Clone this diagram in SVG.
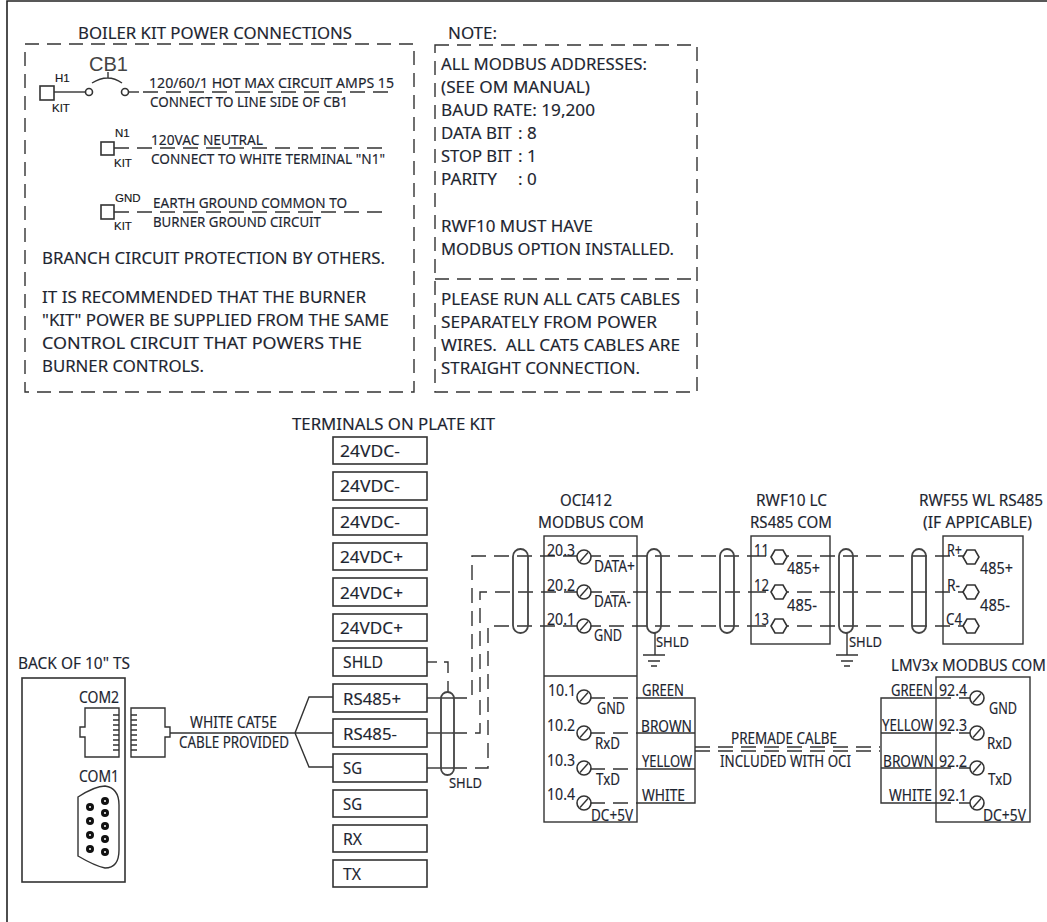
<svg xmlns="http://www.w3.org/2000/svg" xmlns:xlink="http://www.w3.org/1999/xlink" width="1047" height="922" viewBox="0 0 1047 922">
<style>
text{font-family:"Noto Sans","Open Sans","DejaVu Sans",sans-serif;fill:#1d2530;font-size:17px;stroke:#1d2530;stroke-width:.15;transform:translateY(1px)}
.t{font-size:15.5px}.s{font-size:13.5px}.p{font-size:13.8px}
.a{font-family:"Liberation Sans",Arial,sans-serif;font-size:11.5px;fill:#111}
.l{fill:none;stroke:#333;stroke-width:1.4}
.b{fill:#fff;stroke:#333;stroke-width:1.6}
.d{fill:none;stroke:#333;stroke-width:1.4;stroke-dasharray:15 8}
.box{fill:none;stroke:#333;stroke-width:1.4;stroke-dasharray:14 8}
.cap{fill:none;stroke:#444;stroke-width:1.8}
.pin{fill:#111;stroke:none}
</style>
<defs>
<g id="screw"><circle r="7" fill="#fff" stroke="#333" stroke-width="1.6"/><line x1="-4" y1="4.5" x2="4" y2="-4.5" stroke="#333" stroke-width="1.4"/></g>
<polygon id="hex" points="-8,0 -4,-7 4,-7 8,0 4,7 -4,7" fill="#fff" stroke="#333" stroke-width="1.6"/>
<g id="gnd"><path class="l" d="M-11,0H11M-6,6H6M-3,11H3"/></g>
<g id="dpin"><circle r="4" class="pin"/><circle r="1" fill="#fff"/></g>
</defs>
<rect width="1047" height="922" fill="#fff"/>
<path d="M7,922V1H1047" fill="none" stroke="#222" stroke-width="1.6"/>

<g id="connectors">
<path class="l" d="M54,92H85"/>
<path class="l" d="M129,92H139"/>
<path class="d" d="M143,92H391"/>
<path class="d" d="M114,148H390"/>
<path class="d" d="M114,212H390"/>
<path class="d" d="M695,747H880"/>
<path class="d" d="M695,751H880"/>
<path class="l" d="M170,733H333M295,733L309,697H333M295,733L309,767H333"/>
<path class="l" d="M427,662H437"/>
<path class="d" d="M444,662H448V692" stroke-dasharray="8 6"/>
<path class="l" d="M427,698H452"/>
<path class="d" d="M452,698H472V556H751"/>
<path class="l" d="M427,733H452"/>
<path class="d" d="M452,733H480V592H751"/>
<path class="l" d="M427,768H452"/>
<path class="d" d="M452,768H488V626H751"/>
<path class="d" d="M751,556H971M751,592H971M751,626H971"/>
<path class="d" d="M590,698H637M590,733H637M590,769H637M590,803H637"/>
<path class="l" d="M637,698H695V803H637M637,733H695M637,769H695"/>
<path class="l" d="M936,698H881V803H936M936,733H881M936,768H881"/>
<path class="d" d="M936,698H970M936,733H970M936,768H970M936,803H970"/>
<rect class="cap" x="513" y="549" width="15" height="84" rx="7.5"/>
<rect class="cap" x="647" y="549" width="14" height="84" rx="7"/>
<rect class="cap" x="720" y="549" width="14" height="84" rx="7"/>
<rect class="cap" x="839" y="549" width="14" height="84" rx="7"/>
<rect class="cap" x="912" y="549" width="14" height="84" rx="7"/>
<rect class="cap" x="441" y="692" width="13" height="83" rx="6.5"/>
<path class="l" d="M655,633V655"/><use xlink:href="#gnd" href="#gnd" x="654" y="655"/>
<path class="l" d="M847,633V655"/><use xlink:href="#gnd" href="#gnd" x="847" y="655"/>
</g>

<g id="power-box">
<rect class="box" x="25" y="44" width="389" height="348"/>
<text x="78" y="38" textLength="274" lengthAdjust="spacingAndGlyphs">BOILER KIT POWER CONNECTIONS</text>
<rect class="b" x="40" y="86" width="14" height="14"/>
<circle class="b" cx="89" cy="92" r="3.5"/><circle class="b" cx="125" cy="92" r="3.5"/>
<path class="l" d="M92,83Q108,73 122,83M108,78V72"/>
<text class="a" x="89" y="70" style="font-size:21px;stroke:none;fill:#444" textLength="39" lengthAdjust="spacingAndGlyphs">CB1</text>
<text class="a" x="55" y="81">H1</text><text class="a" x="52" y="111">KIT</text>
<text class="p" x="149" y="87" textLength="245" lengthAdjust="spacingAndGlyphs">120/60/1 HOT MAX CIRCUIT AMPS 15</text>
<text class="p" x="150" y="106" textLength="198" lengthAdjust="spacingAndGlyphs">CONNECT TO LINE SIDE OF CB1</text>
<rect class="b" x="101" y="142" width="13" height="13"/>
<text class="a" x="115" y="136">N1</text><text class="a" x="114" y="166">KIT</text>
<text class="p" x="151" y="144" textLength="112" lengthAdjust="spacingAndGlyphs">120VAC NEUTRAL</text>
<text class="p" x="151" y="163" textLength="234" lengthAdjust="spacingAndGlyphs">CONNECT TO WHITE TERMINAL "N1"</text>
<rect class="b" x="101" y="205" width="13" height="14"/>
<text class="a" x="115" y="201">GND</text><text class="a" x="114" y="229">KIT</text>
<text class="p" x="153" y="207" textLength="194" lengthAdjust="spacingAndGlyphs">EARTH GROUND COMMON TO</text>
<text class="p" x="153" y="226" textLength="168" lengthAdjust="spacingAndGlyphs">BURNER GROUND CIRCUIT</text>
<text x="42" y="263" textLength="343" lengthAdjust="spacingAndGlyphs">BRANCH CIRCUIT PROTECTION BY OTHERS.</text>
<text x="42" y="302" textLength="324" lengthAdjust="spacingAndGlyphs">IT IS RECOMMENDED THAT THE BURNER</text>
<text x="42" y="325" textLength="347" lengthAdjust="spacingAndGlyphs">"KIT" POWER BE SUPPLIED FROM THE SAME</text>
<text x="42" y="348" textLength="320" lengthAdjust="spacingAndGlyphs">CONTROL CIRCUIT THAT POWERS THE</text>
<text x="42" y="371" textLength="162" lengthAdjust="spacingAndGlyphs">BURNER CONTROLS.</text>
</g>

<g id="note-box">
<rect class="box" x="435" y="45" width="262" height="347"/>
<path class="box" d="M435,279H697"/>
<text x="448" y="38" textLength="49" lengthAdjust="spacingAndGlyphs">NOTE:</text>
<text x="441" y="69" textLength="206" lengthAdjust="spacingAndGlyphs">ALL MODBUS ADDRESSES:</text>
<text x="441" y="92" textLength="149" lengthAdjust="spacingAndGlyphs">(SEE OM MANUAL)</text>
<text x="441" y="115" textLength="154" lengthAdjust="spacingAndGlyphs">BAUD RATE: 19,200</text>
<text x="441" y="138" textLength="71" lengthAdjust="spacingAndGlyphs">DATA BIT</text><text x="518" y="138">: 8</text>
<text x="441" y="161" textLength="71" lengthAdjust="spacingAndGlyphs">STOP BIT</text><text x="518" y="161">: 1</text>
<text x="441" y="184" textLength="56" lengthAdjust="spacingAndGlyphs">PARITY</text><text x="518" y="184">: 0</text>
<text x="441" y="231" textLength="152" lengthAdjust="spacingAndGlyphs">RWF10 MUST HAVE</text>
<text x="441" y="254" textLength="233" lengthAdjust="spacingAndGlyphs">MODBUS OPTION INSTALLED.</text>
<text x="441" y="304" textLength="239" lengthAdjust="spacingAndGlyphs">PLEASE RUN ALL CAT5 CABLES</text>
<text x="441" y="327" textLength="216" lengthAdjust="spacingAndGlyphs">SEPARATELY FROM POWER</text>
<text x="441" y="350" textLength="239" lengthAdjust="spacingAndGlyphs" xml:space="preserve">WIRES.  ALL CAT5 CABLES ARE</text>
<text x="441" y="373" textLength="199" lengthAdjust="spacingAndGlyphs">STRAIGHT CONNECTION.</text>
</g>

<g id="terminals">
<text x="292" y="429" textLength="203" lengthAdjust="spacingAndGlyphs">TERMINALS ON PLATE KIT</text>
<rect class="b" x="333" y="437" width="94" height="27"/><text x="340" y="456" textLength="60" lengthAdjust="spacingAndGlyphs">24VDC-</text>
<rect class="b" x="333" y="472" width="94" height="28"/><text x="340" y="491" textLength="60" lengthAdjust="spacingAndGlyphs">24VDC-</text>
<rect class="b" x="333" y="508" width="94" height="27"/><text x="340" y="527" textLength="60" lengthAdjust="spacingAndGlyphs">24VDC-</text>
<rect class="b" x="333" y="543" width="94" height="27"/><text x="340" y="562" textLength="63" lengthAdjust="spacingAndGlyphs">24VDC+</text>
<rect class="b" x="333" y="578" width="94" height="28"/><text x="340" y="598" textLength="63" lengthAdjust="spacingAndGlyphs">24VDC+</text>
<rect class="b" x="333" y="614" width="94" height="27"/><text x="340" y="633" textLength="63" lengthAdjust="spacingAndGlyphs">24VDC+</text>
<rect class="b" x="333" y="648" width="94" height="28"/><text x="343" y="667" textLength="40" lengthAdjust="spacingAndGlyphs">SHLD</text>
<rect class="b" x="333" y="684" width="94" height="28"/><text x="343" y="704" textLength="58" lengthAdjust="spacingAndGlyphs">RS485+</text>
<rect class="b" x="333" y="719" width="94" height="28"/><text x="343" y="739" textLength="54" lengthAdjust="spacingAndGlyphs">RS485-</text>
<rect class="b" x="333" y="754" width="94" height="28"/><text x="343" y="773" textLength="19" lengthAdjust="spacingAndGlyphs">SG</text>
<rect class="b" x="333" y="790" width="94" height="27"/><text x="343" y="809" textLength="19" lengthAdjust="spacingAndGlyphs">SG</text>
<rect class="b" x="333" y="825" width="94" height="27"/><text x="343" y="844" textLength="19" lengthAdjust="spacingAndGlyphs">RX</text>
<rect class="b" x="333" y="860" width="94" height="27"/><text x="343" y="879" textLength="18" lengthAdjust="spacingAndGlyphs">TX</text>
<text class="s" x="449" y="787" textLength="33" lengthAdjust="spacingAndGlyphs">SHLD</text>
</g>

<g id="touchscreen">
<text x="18" y="668" textLength="112" lengthAdjust="spacingAndGlyphs">BACK OF 10" TS</text>
<rect class="b" x="22" y="678" width="103" height="204"/>
<text class="t" x="79" y="702" textLength="40" lengthAdjust="spacingAndGlyphs">COM2</text>
<path class="l" d="M85,708H119V757H85V737H80V727H85Z"/>
<path class="l" d="M113,715H119M113,720H119M113,725H119M113,730H119M113,735H119M113,740H119M113,745H119M113,750H119"/>
<text class="t" x="79" y="781" textLength="40" lengthAdjust="spacingAndGlyphs">COM1</text>
<path class="l" d="M78,797Q95,786 105,786Q119,788 119,805V850Q119,868 105,868Q95,866 78,856Z"/>
<use xlink:href="#dpin" href="#dpin" x="90" y="807"/><use xlink:href="#dpin" href="#dpin" x="90" y="821"/><use xlink:href="#dpin" href="#dpin" x="90" y="835"/><use xlink:href="#dpin" href="#dpin" x="90" y="849"/>
<use xlink:href="#dpin" href="#dpin" x="105" y="801"/><use xlink:href="#dpin" href="#dpin" x="105" y="813"/><use xlink:href="#dpin" href="#dpin" x="105" y="826"/><use xlink:href="#dpin" href="#dpin" x="105" y="839"/><use xlink:href="#dpin" href="#dpin" x="105" y="852"/>
</g>

<g id="cat5-plug">
<path class="l" d="M131,708H165V727H170V737H165V757H131Z"/>
<path class="l" d="M131,715H137M131,720H137M131,725H137M131,730H137M131,735H137M131,740H137M131,745H137M131,750H137"/>
<text class="t" x="190" y="727" textLength="87" lengthAdjust="spacingAndGlyphs">WHITE CAT5E</text>
<text class="t" x="179" y="747" textLength="110" lengthAdjust="spacingAndGlyphs">CABLE PROVIDED</text>
</g>

<g id="oci412">
<rect class="l" x="544" y="536" width="93" height="286" stroke-width="1.6"/>
<path class="l" d="M544,676H637"/>
<text class="t" x="560" y="505" textLength="52" lengthAdjust="spacingAndGlyphs">OCI412</text>
<text class="t" x="538" y="527" textLength="106" lengthAdjust="spacingAndGlyphs">MODBUS COM</text>
<use xlink:href="#screw" href="#screw" x="584" y="557"/><use xlink:href="#screw" href="#screw" x="584" y="592"/><use xlink:href="#screw" href="#screw" x="584" y="626"/>
<text class="t" x="547" y="555" textLength="28" lengthAdjust="spacingAndGlyphs">20.3</text><text class="t" x="594" y="571" textLength="41" lengthAdjust="spacingAndGlyphs">DATA+</text>
<text class="t" x="547" y="590" textLength="28" lengthAdjust="spacingAndGlyphs">20.2</text><text class="t" x="594" y="606" textLength="37" lengthAdjust="spacingAndGlyphs">DATA-</text>
<text class="t" x="547" y="624" textLength="28" lengthAdjust="spacingAndGlyphs">20.1</text><text class="t" x="594" y="640" textLength="28" lengthAdjust="spacingAndGlyphs">GND</text>
<text class="s" x="656" y="646" textLength="33" lengthAdjust="spacingAndGlyphs">SHLD</text>
<use xlink:href="#screw" href="#screw" x="584" y="697"/><use xlink:href="#screw" href="#screw" x="584" y="733"/><use xlink:href="#screw" href="#screw" x="584" y="768"/><use xlink:href="#screw" href="#screw" x="584" y="803"/>
<text class="t" x="548" y="695" textLength="28" lengthAdjust="spacingAndGlyphs">10.1</text><text class="t" x="597" y="713" textLength="28" lengthAdjust="spacingAndGlyphs">GND</text>
<text class="t" x="547" y="730" textLength="28" lengthAdjust="spacingAndGlyphs">10.2</text><text class="t" x="595" y="748" textLength="25" lengthAdjust="spacingAndGlyphs">RxD</text>
<text class="t" x="547" y="765" textLength="28" lengthAdjust="spacingAndGlyphs">10.3</text><text class="t" x="596" y="784" textLength="24" lengthAdjust="spacingAndGlyphs">TxD</text>
<text class="t" x="547" y="799" textLength="28" lengthAdjust="spacingAndGlyphs">10.4</text><text class="t" x="591" y="820" textLength="42" lengthAdjust="spacingAndGlyphs">DC+5V</text>
<text class="t" x="642" y="695" textLength="42" lengthAdjust="spacingAndGlyphs">GREEN</text>
<text class="t" x="641" y="731" textLength="51" lengthAdjust="spacingAndGlyphs">BROWN</text>
<text class="t" x="642" y="766" textLength="50" lengthAdjust="spacingAndGlyphs">YELLOW</text>
<text class="t" x="642" y="800" textLength="43" lengthAdjust="spacingAndGlyphs">WHITE</text>
</g>

<g id="premade-cable">
<text class="t" x="731" y="743" textLength="106" lengthAdjust="spacingAndGlyphs">PREMADE CALBE</text>
<text class="t" x="720" y="766" textLength="131" lengthAdjust="spacingAndGlyphs">INCLUDED WITH OCI</text>
</g>

<g id="rwf10">
<rect class="l" x="751" y="536" width="79" height="108"/>
<text class="t" x="756" y="505" textLength="71" lengthAdjust="spacingAndGlyphs">RWF10 LC</text>
<text class="t" x="750" y="527" textLength="82" lengthAdjust="spacingAndGlyphs">RS485 COM</text>
<use xlink:href="#hex" href="#hex" x="779" y="557"/><use xlink:href="#hex" href="#hex" x="779" y="592"/><use xlink:href="#hex" href="#hex" x="779" y="626"/>
<text class="t" x="754" y="555" textLength="15" lengthAdjust="spacingAndGlyphs">11</text><text class="t" x="787" y="573" textLength="33" lengthAdjust="spacingAndGlyphs">485+</text>
<text class="t" x="754" y="590" textLength="15" lengthAdjust="spacingAndGlyphs">12</text><text class="t" x="787" y="610" textLength="30" lengthAdjust="spacingAndGlyphs">485-</text>
<text class="t" x="754" y="624" textLength="15" lengthAdjust="spacingAndGlyphs">13</text>
<text class="s" x="849" y="646" textLength="33" lengthAdjust="spacingAndGlyphs">SHLD</text>
</g>

<g id="rwf55">
<rect class="l" x="943" y="536" width="80" height="108"/>
<text class="t" x="919" y="505" textLength="124" lengthAdjust="spacingAndGlyphs">RWF55 WL RS485</text>
<text class="t" x="923" y="527" textLength="109" lengthAdjust="spacingAndGlyphs">(IF APPICABLE)</text>
<use xlink:href="#hex" href="#hex" x="971" y="557"/><use xlink:href="#hex" href="#hex" x="971" y="592"/><use xlink:href="#hex" href="#hex" x="971" y="626"/>
<text class="t" x="947" y="555" textLength="15" lengthAdjust="spacingAndGlyphs">R+</text><text class="t" x="980" y="573" textLength="33" lengthAdjust="spacingAndGlyphs">485+</text>
<text class="t" x="947" y="590" textLength="13" lengthAdjust="spacingAndGlyphs">R-</text><text class="t" x="980" y="610" textLength="30" lengthAdjust="spacingAndGlyphs">485-</text>
<text class="t" x="946" y="624" textLength="16" lengthAdjust="spacingAndGlyphs">C4</text>
</g>

<g id="lmv3x">
<rect class="l" x="936" y="677" width="94" height="145" stroke-width="1.6"/>
<text class="t" x="891" y="670" textLength="155" lengthAdjust="spacingAndGlyphs">LMV3x MODBUS COM</text>
<use xlink:href="#screw" href="#screw" x="977" y="698"/><use xlink:href="#screw" href="#screw" x="977" y="733"/><use xlink:href="#screw" href="#screw" x="977" y="768"/><use xlink:href="#screw" href="#screw" x="977" y="803"/>
<text class="t" x="891" y="695" textLength="42" lengthAdjust="spacingAndGlyphs">GREEN</text>
<text class="t" x="882" y="730" textLength="51" lengthAdjust="spacingAndGlyphs">YELLOW</text>
<text class="t" x="883" y="766" textLength="51" lengthAdjust="spacingAndGlyphs">BROWN</text>
<text class="t" x="889" y="800" textLength="43" lengthAdjust="spacingAndGlyphs">WHITE</text>
<text class="t" x="939" y="695" textLength="28" lengthAdjust="spacingAndGlyphs">92.4</text><text class="t" x="989" y="713" textLength="28" lengthAdjust="spacingAndGlyphs">GND</text>
<text class="t" x="939" y="730" textLength="28" lengthAdjust="spacingAndGlyphs">92.3</text><text class="t" x="987" y="748" textLength="25" lengthAdjust="spacingAndGlyphs">RxD</text>
<text class="t" x="939" y="766" textLength="28" lengthAdjust="spacingAndGlyphs">92.2</text><text class="t" x="988" y="784" textLength="24" lengthAdjust="spacingAndGlyphs">TxD</text>
<text class="t" x="939" y="800" textLength="28" lengthAdjust="spacingAndGlyphs">92.1</text><text class="t" x="983" y="820" textLength="43" lengthAdjust="spacingAndGlyphs">DC+5V</text>
</g>
</svg>
